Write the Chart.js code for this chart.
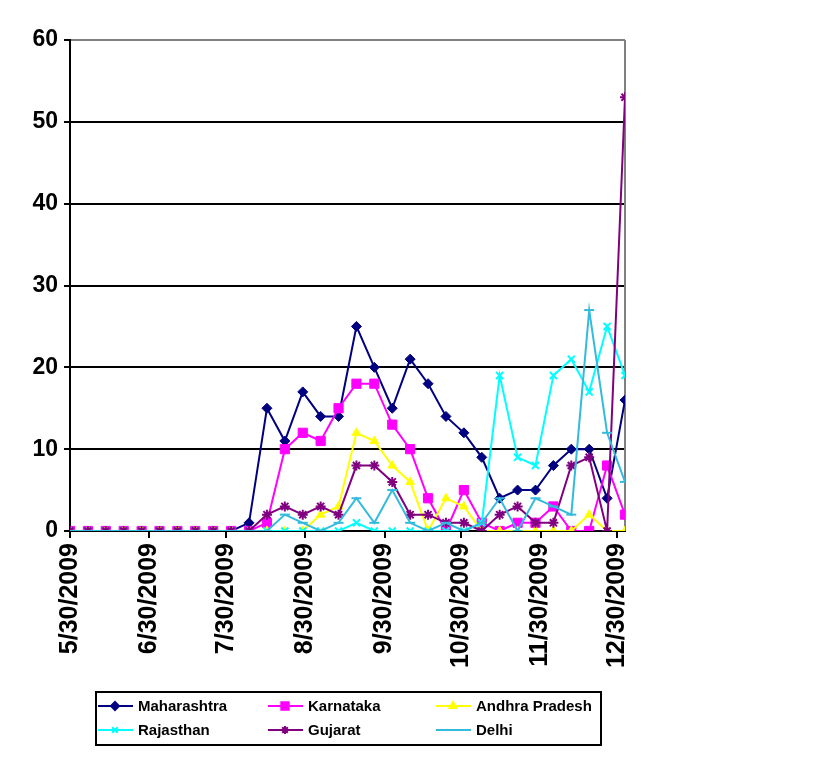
<!DOCTYPE html>
<html>
<head>
<meta charset="utf-8">
<script src="https://cdn.jsdelivr.net/npm/chart.js@4.4.0/dist/chart.umd.min.js"></script>
<style>
  body { margin: 0; background: #fff; }
  canvas { display: block; }
</style>
</head>
<body>
<canvas id="chart" width="837" height="757"></canvas>
<script>
// weekly report dates
const weeks = ['5/30/2009', '6/6/2009', '6/13/2009', '6/20/2009', '6/27/2009', '7/4/2009', '7/11/2009',
  '7/18/2009', '7/25/2009', '8/1/2009', '8/8/2009', '8/15/2009', '8/22/2009', '8/29/2009', '9/5/2009',
  '9/12/2009', '9/19/2009', '9/26/2009', '10/3/2009', '10/10/2009', '10/17/2009', '10/24/2009',
  '10/31/2009', '11/7/2009', '11/14/2009', '11/21/2009', '11/28/2009', '12/5/2009', '12/12/2009',
  '12/19/2009', '12/26/2009', '1/2/2010'];
const tickDates = ['5/30/2009', '6/30/2009', '7/30/2009', '8/30/2009', '9/30/2009', '10/30/2009', '11/30/2009', '12/30/2009'];
const yTicks = [0, 10, 20, 30, 40, 50, 60];

const maharashtra = [0, 0, 0, 0, 0, 0, 0, 0, 0, 0, 1, 15, 11, 17, 14, 14, 25, 20, 15, 21, 18, 14, 12, 9, 4, 5, 5, 8, 10, 10, 4, 16];
const karnataka = [0, 0, 0, 0, 0, 0, 0, 0, 0, 0, 0, 1, 10, 12, 11, 15, 18, 18, 13, 10, 4, 0, 5, 1, 0, 1, 1, 3, 0, 0, 8, 2];
const andhraPradesh = [0, 0, 0, 0, 0, 0, 0, 0, 0, 0, 0, 0, 0, 0, 2, 3, 12, 11, 8, 6, 0, 4, 3, 0, 0, 0, 0, 0, 0, 2, 0, 0];
const rajasthan = [0, 0, 0, 0, 0, 0, 0, 0, 0, 0, 0, 0, 0, 0, 0, 0, 1, 0, 0, 0, 0, 0, 0, 1, 19, 9, 8, 19, 21, 17, 25, 19];
const gujarat = [0, 0, 0, 0, 0, 0, 0, 0, 0, 0, 0, 2, 3, 2, 3, 2, 8, 8, 6, 2, 2, 1, 1, 0, 2, 3, 1, 1, 8, 9, 0, 53];
const delhi = [0, 0, 0, 0, 0, 0, 0, 0, 0, 0, 0, 0, 2, 1, 0, 1, 4, 1, 5, 1, 0, 1, 0, 1, 4, 0, 4, 3, 2, 27, 12, 6];

const FONT = "'Liberation Sans', Arial, sans-serif";

function dayNum(s) {
  const [m, d, y] = s.split('/').map(Number);
  return Date.UTC(y, m - 1, d) / 86400000;
}
const day0 = dayNum(weeks[0]);
const xOf = s => dayNum(s) - day0;
const tickDays = tickDates.map(xOf);

function series(label, values, color, style, radius, bw, order) {
  return {
    label,
    data: values.map((v, i) => ({ x: xOf(weeks[i]), y: v })),
    borderColor: color,
    backgroundColor: color,
    borderWidth: 2,
    pointStyle: style,
    pointRadius: radius,
    pointBorderWidth: bw,
    pointBackgroundColor: color,
    pointBorderColor: color,
    tension: 0,
    order
  };
}

const datasets = [
  series('Maharashtra', maharashtra, '#000080', 'rectRot', 5, 1, 6),
  series('Karnataka', karnataka, '#FF00FF', 'rect', 6.5, 1, 5),
  series('Andhra Pradesh', andhraPradesh, '#FFFF00', 'triangle', 5, 1, 4),
  series('Rajasthan', rajasthan, '#00FFFF', 'crossRot', 5, 2, 3),
  series('Gujarat', gujarat, '#800080', 'star', 5, 2, 2),
  series('Delhi', delhi, '#33BBDD', 'line', 5, 2, 1)
];

// gray right edge of the plot area
const frame = {
  id: 'frame',
  beforeDatasetsDraw(chart) {
    const { ctx, chartArea: a } = chart;
    ctx.save();
    ctx.strokeStyle = '#808080';
    ctx.lineWidth = 2;
    ctx.beginPath();
    ctx.moveTo(a.right, a.top);
    ctx.lineTo(a.right, a.bottom);
    ctx.stroke();
    ctx.restore();
  }
};

// legend: 3 columns x 2 rows in a black box
const boxLegend = {
  id: 'boxLegend',
  afterDraw(chart) {
    const ctx = chart.ctx;
    const left = 96, top = 692, w = 505, h = 53;
    const cols = [98, 268, 436];
    const rows = [706, 730];
    ctx.save();
    ctx.strokeStyle = '#000';
    ctx.lineWidth = 2;
    ctx.strokeRect(left, top, w, h);
    ctx.font = 'bold 15px ' + FONT;
    ctx.textBaseline = 'middle';
    chart.data.datasets.forEach((ds, i) => {
      const x = cols[i % 3], y = rows[Math.floor(i / 3)];
      ctx.strokeStyle = ds.borderColor;
      ctx.fillStyle = ds.borderColor;
      ctx.lineWidth = 2;
      ctx.beginPath();
      ctx.moveTo(x, y);
      ctx.lineTo(x + 35, y);
      ctx.stroke();
      Chart.helpers.drawPoint(ctx, {
        pointStyle: ds.pointStyle,
        radius: ds.pointRadius * 0.8,
        borderWidth: ds.pointBorderWidth,
        rotation: 0
      }, x + 17, y);
      ctx.fillStyle = '#000';
      ctx.fillText(ds.label, x + 40, y + 1);
    });
    ctx.restore();
  }
};

new Chart(document.getElementById('chart'), {
  type: 'line',
  data: { datasets },
  plugins: [frame, boxLegend],
  options: {
    responsive: false,
    animation: false,
    layout: { padding: { top: 40, right: 212, bottom: 76, left: 0 } },
    plugins: { legend: { display: false }, tooltip: { enabled: false } },
    scales: {
      x: {
        type: 'linear',
        min: 0,
        max: xOf(weeks[weeks.length - 1]),
        afterBuildTicks: s => { s.ticks = tickDays.map(v => ({ value: v })); },
        afterFit: s => { s.height = 150; },
        ticks: {
          autoSkip: false,
          minRotation: 90,
          maxRotation: 90,
          padding: 5,
          color: '#000',
          font: { family: FONT, size: 25, weight: 'bold' },
          callback: v => tickDates[tickDays.indexOf(v)] || ''
        },
        grid: { drawOnChartArea: false, drawTicks: true, tickLength: 7, color: '#000', lineWidth: 2 },
        border: { display: true, color: '#000', width: 2 }
      },
      y: {
        min: yTicks[0],
        max: yTicks[yTicks.length - 1],
        afterBuildTicks: s => { s.ticks = yTicks.map(v => ({ value: v })); },
        afterFit: s => { s.width = 70; },
        ticks: {
          padding: 6,
          color: '#000',
          font: { family: FONT, size: 23, weight: 'bold' }
        },
        grid: {
          color: c => (c.tick && c.tick.value === 60 ? '#808080' : '#000'),
          tickColor: '#000',
          lineWidth: 2,
          tickLength: 6
        },
        border: { display: true, color: '#000', width: 2 }
      }
    }
  }
});
</script>
</body>
</html>
